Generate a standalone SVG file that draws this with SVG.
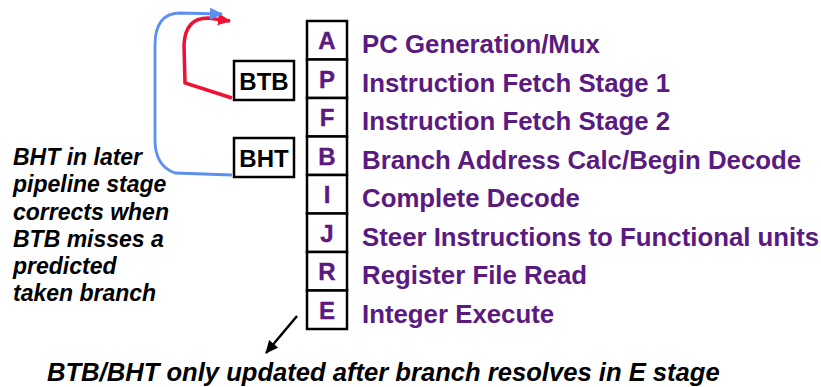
<svg xmlns="http://www.w3.org/2000/svg" width="821" height="387" viewBox="0 0 821 387">
<style>
.box{fill:#fff;stroke:#000;stroke-width:2.5}
.st{font-family:"Liberation Sans",Arial,sans-serif;font-weight:bold;font-size:24px;fill:#5a1a80;text-anchor:middle;stroke:#5a1a80;stroke-width:0.4}
.lbl{font-family:"Liberation Sans",Arial,sans-serif;font-weight:bold;font-size:25.8px;fill:#5a1a80}
.bk{font-family:"Liberation Sans",Arial,sans-serif;font-weight:bold;font-size:24px;fill:#000;text-anchor:middle}
.it{font-family:"Liberation Sans",Arial,sans-serif;font-weight:bold;font-style:italic;fill:#000}
</style>
<defs>
<marker id="mr" markerUnits="userSpaceOnUse" markerWidth="16" markerHeight="14" refX="12" refY="6" orient="auto"><path d="M0,0 L13,6 L0,12 z" fill="#ee1133"/></marker>
<marker id="mb" markerUnits="userSpaceOnUse" markerWidth="16" markerHeight="14" refX="12" refY="6" orient="auto"><path d="M0,0 L13,6 L0,12 z" fill="#5b8ff0"/></marker>
<marker id="mk" markerUnits="userSpaceOnUse" markerWidth="16" markerHeight="14" refX="12" refY="6" orient="auto"><path d="M0,0 L13,6 L0,12 z" fill="#000"/></marker>
</defs>
<g id="stages">
<g id="stage-A"><rect class="box" x="307" y="21" width="40" height="38.5"/><text class="st" x="327" y="48.5">A</text><text class="lbl" x="362" y="53">PC Generation/Mux</text></g>
<g id="stage-P"><rect class="box" x="307" y="59.5" width="40" height="38.5"/><text class="st" x="327" y="87.5">P</text><text class="lbl" x="362" y="91.5">Instruction Fetch Stage 1</text></g>
<g id="stage-F"><rect class="box" x="307" y="98" width="40" height="38.5"/><text class="st" x="327" y="126">F</text><text class="lbl" x="362" y="130">Instruction Fetch Stage 2</text></g>
<g id="stage-B"><rect class="box" x="307" y="136.5" width="40" height="38.5"/><text class="st" x="327" y="164.5">B</text><text class="lbl" x="362" y="168.5">Branch Address Calc/Begin Decode</text></g>
<g id="stage-I"><rect class="box" x="307" y="175" width="40" height="38.5"/><text class="st" x="327" y="203">I</text><text class="lbl" x="362" y="207">Complete Decode</text></g>
<g id="stage-J"><rect class="box" x="307" y="213.5" width="40" height="38.5"/><text class="st" x="327" y="241.5">J</text><text class="lbl" x="362" y="245.5">Steer Instructions to Functional units</text></g>
<g id="stage-R"><rect class="box" x="307" y="252" width="40" height="38.5"/><text class="st" x="327" y="280">R</text><text class="lbl" x="362" y="284">Register File Read</text></g>
<g id="stage-E"><rect class="box" x="307" y="290.5" width="40" height="38.5"/><text class="st" x="327" y="318.5">E</text><text class="lbl" x="362" y="322.5">Integer Execute</text></g>
</g>
<g id="btb"><rect class="box" x="234" y="61" width="60" height="39"/><text class="bk" x="264" y="89.5">BTB</text></g>
<g id="bht"><rect class="box" x="234" y="138" width="60" height="39"/><text class="bk" x="264" y="166.5">BHT</text></g>
<g id="connectors" fill="none">
<path d="M232,98 L185,83 L184,45 Q185,18 208,18 L230,21" stroke="#ee1133" stroke-width="3.5" marker-end="url(#mr)"/>
<path d="M232,175 L175,173 Q155,166 155,140 L155,45 Q155,13 180,13 L222,14" stroke="#5b8ff0" stroke-width="2.8" marker-end="url(#mb)"/>
<path d="M297,316 L266,353" stroke="#000" stroke-width="2.5" marker-end="url(#mk)"/>
</g>
<g id="note-left" class="it" font-size="23">
<text x="13" y="165">BHT in later</text>
<text x="13" y="192">pipeline stage</text>
<text x="13" y="219.5">corrects when</text>
<text x="13" y="246.5">BTB misses a</text>
<text x="13" y="273.5">predicted</text>
<text x="13" y="301">taken branch</text>
</g>
<g id="note-bottom"><text class="it" font-size="25.6" x="47" y="381">BTB/BHT only updated after branch resolves in E stage</text></g>
</svg>
